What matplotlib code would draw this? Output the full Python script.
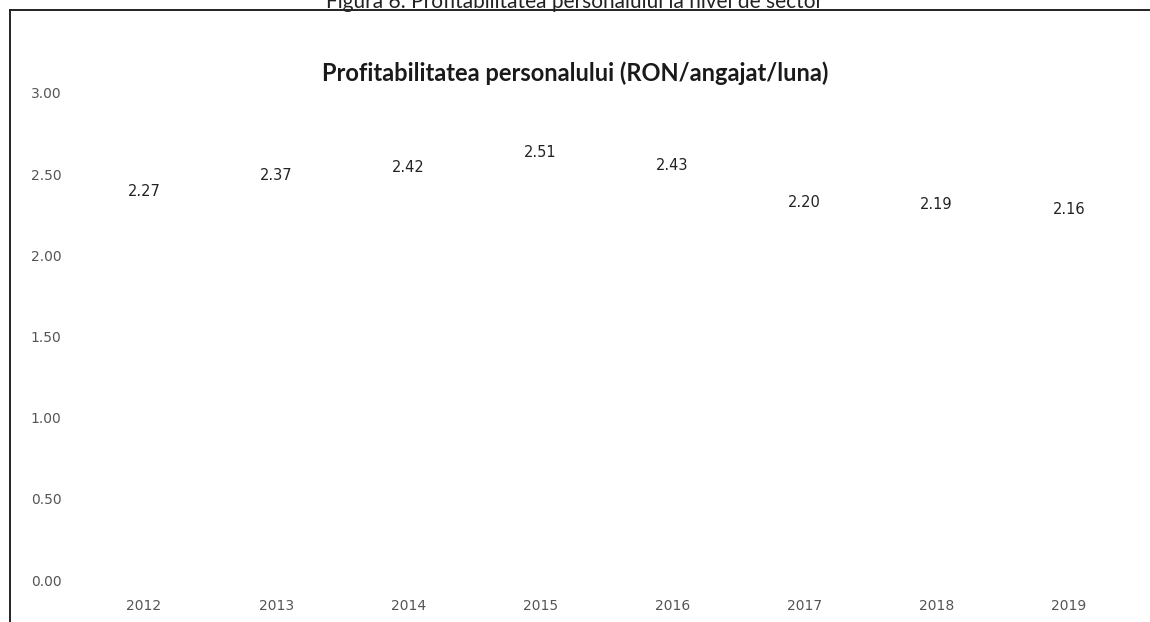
import matplotlib
matplotlib.use("Agg")
import matplotlib.pyplot as plt
from matplotlib.lines import Line2D

years = ["2012", "2013", "2014", "2015", "2016", "2017", "2018", "2019"]
values = [2.27, 2.37, 2.42, 2.51, 2.43, 2.20, 2.19, 2.16]
yticks = [0.0, 0.5, 1.0, 1.5, 2.0, 2.5, 3.0]

plt.rcParams["font.family"] = ["Lato", "DejaVu Sans"]

fig = plt.figure(figsize=(11.5, 6.22), dpi=100)
ax = fig.add_axes([0.0678, 0.0675, 0.919, 0.783])

# bars faded out in the scan: drawn in white so only labels show
bars = ax.bar(range(len(years)), values, width=0.5, color="white")
ax.bar_label(bars, labels=[f"{v:.2f}" for v in values], padding=9,
             fontsize=10.5, color="#222222", family="DejaVu Sans")

ax.set_xlim(-0.5, len(years) - 0.5)
ax.set_ylim(0, 3.0)
ax.set_yticks(yticks)
ax.set_yticklabels([f"{t:.2f}" for t in yticks])
ax.set_xticks(range(len(years)))
ax.set_xticklabels(years)
ax.tick_params(length=0, labelsize=10, labelcolor="#555555")
ax.tick_params(axis="y", pad=12)
ax.tick_params(axis="x", pad=14)
for lab in ax.get_xticklabels() + ax.get_yticklabels():
    lab.set_family("DejaVu Sans")
for s in ax.spines.values():
    s.set_visible(False)

fig.text(0.5, 0.883, "Profitabilitatea personalului (RON/angajat/luna)",
         ha="center", va="center", fontsize=17, fontweight="bold", color="#1a1a1a")
# caption cut off at the top of the scan
fig.text(0.5, 1 - 8 / 622, "Figura 6: Profitabilitatea personalului la nivel de sector",
         ha="center", va="baseline", fontsize=15, color="#222222")

# scanned frame: left and top border
top = 1 - 10 / 622
fig.add_artist(Line2D([10 / 1150, 10 / 1150], [0, top],
                      transform=fig.transFigure, color="#222222", lw=1.4))
fig.add_artist(Line2D([10 / 1150, 1], [top, top],
                      transform=fig.transFigure, color="#222222", lw=1.4))

fig.savefig("out.png", dpi=100)
plt.close(fig)
